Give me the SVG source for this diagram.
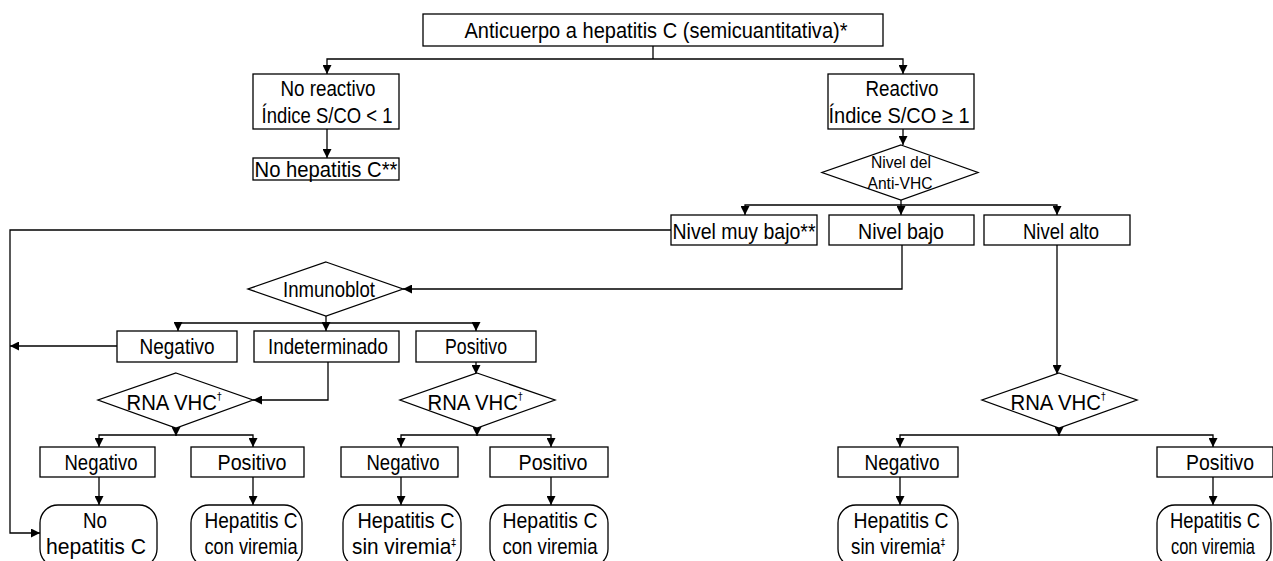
<svg xmlns="http://www.w3.org/2000/svg" width="1273" height="561" viewBox="0 0 1273 561">
<style>
.b{fill:#fff;stroke:#000;stroke-width:1.3}
.c{fill:none;stroke:#000;stroke-width:1.3}
text{font-family:"Liberation Sans",Arial,sans-serif;font-size:22px;fill:#000;text-anchor:middle}
.s{font-size:16px}
.sup{font-family:"DejaVu Sans","Liberation Sans",sans-serif;font-size:10px;fill:#000}
</style>
<defs>
<marker id="a" viewBox="0 0 10 10" refX="10" refY="5" markerWidth="9" markerHeight="9" markerUnits="userSpaceOnUse" orient="auto-start-reverse">
<path d="M0,0 L10,5 L0,10 z" fill="#000"/>
</marker>
</defs>
<rect width="1273" height="561" fill="#fff"/>
<g id="connectors" class="c">
<path d="M653,46 V59"/>
<path d="M327,74 V59 H903 V74" marker-start="url(#a)" marker-end="url(#a)"/>
<path d="M327,129 V158" marker-end="url(#a)"/>
<path d="M903,129 V145" marker-end="url(#a)"/>
<path d="M745,215 V205 H1057 V215" marker-start="url(#a)" marker-end="url(#a)"/>
<path d="M901,200 V215" marker-end="url(#a)"/>
<path d="M671,230 H10 V533 H40" marker-end="url(#a)"/>
<path d="M902,245 V289 H403" marker-end="url(#a)"/>
<path d="M1057,245 V374" marker-end="url(#a)"/>
<path d="M326,316 V331" marker-end="url(#a)"/>
<path d="M178,331 V323 H476 V331" marker-start="url(#a)" marker-end="url(#a)"/>
<path d="M117,346 H10" marker-end="url(#a)"/>
<path d="M328,362 V400 H253" marker-end="url(#a)"/>
<path d="M476,362 V374" marker-end="url(#a)"/>
<path d="M176,428 V436" marker-end="url(#a)"/>
<path d="M99,447 V435 H253 V447" marker-start="url(#a)" marker-end="url(#a)"/>
<path d="M99,477 V505" marker-end="url(#a)"/>
<path d="M253,477 V505" marker-end="url(#a)"/>
<path d="M477,428 V436" marker-end="url(#a)"/>
<path d="M401,447 V435 H551 V447" marker-start="url(#a)" marker-end="url(#a)"/>
<path d="M401,477 V505" marker-end="url(#a)"/>
<path d="M551,477 V505" marker-end="url(#a)"/>
<path d="M1059,428 V436" marker-end="url(#a)"/>
<path d="M900,447 V435 H1213 V447" marker-start="url(#a)" marker-end="url(#a)"/>
<path d="M900,477 V505" marker-end="url(#a)"/>
<path d="M1213,477 V505" marker-end="url(#a)"/>
</g>
<g id="n-anticuerpo"><rect class="b" x="423" y="14" width="460" height="32"/><text x="656" y="38" textLength="383" lengthAdjust="spacingAndGlyphs">Anticuerpo a hepatitis C (semicuantitativa)*</text></g>
<g id="n-noreactivo"><rect class="b" x="253" y="74" width="146" height="55"/><text x="328" y="96" textLength="95" lengthAdjust="spacingAndGlyphs">No reactivo</text><text x="327" y="123" textLength="131" lengthAdjust="spacingAndGlyphs">Índice S/CO &lt; 1</text></g>
<g id="n-nohepc"><rect class="b" x="253" y="158" width="146" height="22"/><text x="326" y="177" textLength="143" lengthAdjust="spacingAndGlyphs">No hepatitis C**</text></g>
<g id="n-reactivo"><rect class="b" x="828" y="74" width="146" height="55"/><text x="902" y="96" textLength="73" lengthAdjust="spacingAndGlyphs">Reactivo</text><text x="899" y="123" textLength="141" lengthAdjust="spacingAndGlyphs">Índice S/CO ≥ 1</text></g>
<g id="n-nivel"><polygon class="b" points="901,145 978,172.5 901,200 822,172.5"/><text class="s" x="901" y="168" textLength="60" lengthAdjust="spacingAndGlyphs">Nivel del</text><text class="s" x="900" y="189" textLength="65" lengthAdjust="spacingAndGlyphs">Anti-VHC</text></g>
<g id="n-muybajo"><rect class="b" x="671" y="215" width="146" height="30"/><text x="744" y="239" textLength="143" lengthAdjust="spacingAndGlyphs">Nivel muy bajo**</text></g>
<g id="n-bajo"><rect class="b" x="829" y="215" width="145" height="30"/><text x="901" y="239" textLength="86" lengthAdjust="spacingAndGlyphs">Nivel bajo</text></g>
<g id="n-alto"><rect class="b" x="984" y="215" width="146" height="30"/><text x="1061" y="239" textLength="76" lengthAdjust="spacingAndGlyphs">Nivel alto</text></g>
<g id="n-inmunoblot"><polygon class="b" points="326,262 403,289 326,316 248,289"/><text x="329" y="297" textLength="92" lengthAdjust="spacingAndGlyphs">Inmunoblot</text></g>
<g id="n-ib-neg"><rect class="b" x="117" y="331" width="120" height="31"/><text x="177" y="354" textLength="75" lengthAdjust="spacingAndGlyphs">Negativo</text></g>
<g id="n-ib-ind"><rect class="b" x="254" y="331" width="145" height="31"/><text x="328" y="354" textLength="120" lengthAdjust="spacingAndGlyphs">Indeterminado</text></g>
<g id="n-ib-pos"><rect class="b" x="416" y="331" width="120" height="31"/><text x="476" y="354" textLength="62" lengthAdjust="spacingAndGlyphs">Positivo</text></g>
<g id="n-rna1"><polygon class="b" points="176,373 253,400 176,428 98,400"/><text x="174" y="410" textLength="95" lengthAdjust="spacingAndGlyphs">RNA VHC<tspan class="sup" dy="-10">†</tspan></text></g>
<g id="n-rna2"><polygon class="b" points="477,373 555,400 477,428 400,400"/><text x="475" y="410" textLength="95" lengthAdjust="spacingAndGlyphs">RNA VHC<tspan class="sup" dy="-10">†</tspan></text></g>
<g id="n-rna3"><polygon class="b" points="1059,373 1137,400 1059,428 982,400"/><text x="1058" y="410" textLength="95" lengthAdjust="spacingAndGlyphs">RNA VHC<tspan class="sup" dy="-10">†</tspan></text></g>
<g id="n-neg1"><rect class="b" x="40" y="447" width="115" height="30"/><text x="101" y="470" textLength="73" lengthAdjust="spacingAndGlyphs">Negativo</text></g>
<g id="n-pos1"><rect class="b" x="191" y="447" width="113" height="30"/><text x="252" y="470" textLength="69" lengthAdjust="spacingAndGlyphs">Positivo</text></g>
<g id="n-neg2"><rect class="b" x="341" y="447" width="117" height="30"/><text x="403" y="470" textLength="73" lengthAdjust="spacingAndGlyphs">Negativo</text></g>
<g id="n-pos2"><rect class="b" x="490" y="447" width="118" height="30"/><text x="553" y="470" textLength="69" lengthAdjust="spacingAndGlyphs">Positivo</text></g>
<g id="n-neg3"><rect class="b" x="838" y="447" width="120" height="30"/><text x="902" y="470" textLength="75" lengthAdjust="spacingAndGlyphs">Negativo</text></g>
<g id="n-pos3"><rect class="b" x="1157" y="447" width="116" height="30"/><text x="1220" y="470" textLength="68" lengthAdjust="spacingAndGlyphs">Positivo</text></g>
<g id="n-r1"><rect class="b" x="40" y="505" width="117" height="62" rx="18"/><text x="95" y="528" textLength="24" lengthAdjust="spacingAndGlyphs">No</text><text x="96" y="554" textLength="100" lengthAdjust="spacingAndGlyphs">hepatitis C</text></g>
<g id="n-r2"><rect class="b" x="191" y="505" width="111" height="62" rx="18"/><text x="251" y="528" textLength="93" lengthAdjust="spacingAndGlyphs">Hepatitis C</text><text x="251" y="554" textLength="93" lengthAdjust="spacingAndGlyphs">con viremia</text></g>
<g id="n-r3"><rect class="b" x="343" y="505" width="118" height="62" rx="18"/><text x="406" y="528" textLength="97" lengthAdjust="spacingAndGlyphs">Hepatitis C</text><text x="404" y="554" textLength="104" lengthAdjust="spacingAndGlyphs">sin viremia<tspan class="sup" dy="-8">‡</tspan></text></g>
<g id="n-r4"><rect class="b" x="490" y="505" width="118" height="62" rx="18"/><text x="550" y="528" textLength="95" lengthAdjust="spacingAndGlyphs">Hepatitis C</text><text x="550" y="554" textLength="95" lengthAdjust="spacingAndGlyphs">con viremia</text></g>
<g id="n-r5"><rect class="b" x="838" y="505" width="120" height="62" rx="18"/><text x="901" y="528" textLength="95" lengthAdjust="spacingAndGlyphs">Hepatitis C</text><text x="898" y="554" textLength="94" lengthAdjust="spacingAndGlyphs">sin viremia<tspan class="sup" dy="-8">‡</tspan></text></g>
<g id="n-r6"><rect class="b" x="1157" y="505" width="114" height="62" rx="18"/><text x="1215" y="528" textLength="90" lengthAdjust="spacingAndGlyphs">Hepatitis C</text><text x="1213" y="554" textLength="84" lengthAdjust="spacingAndGlyphs">con viremia</text></g>
</svg>
